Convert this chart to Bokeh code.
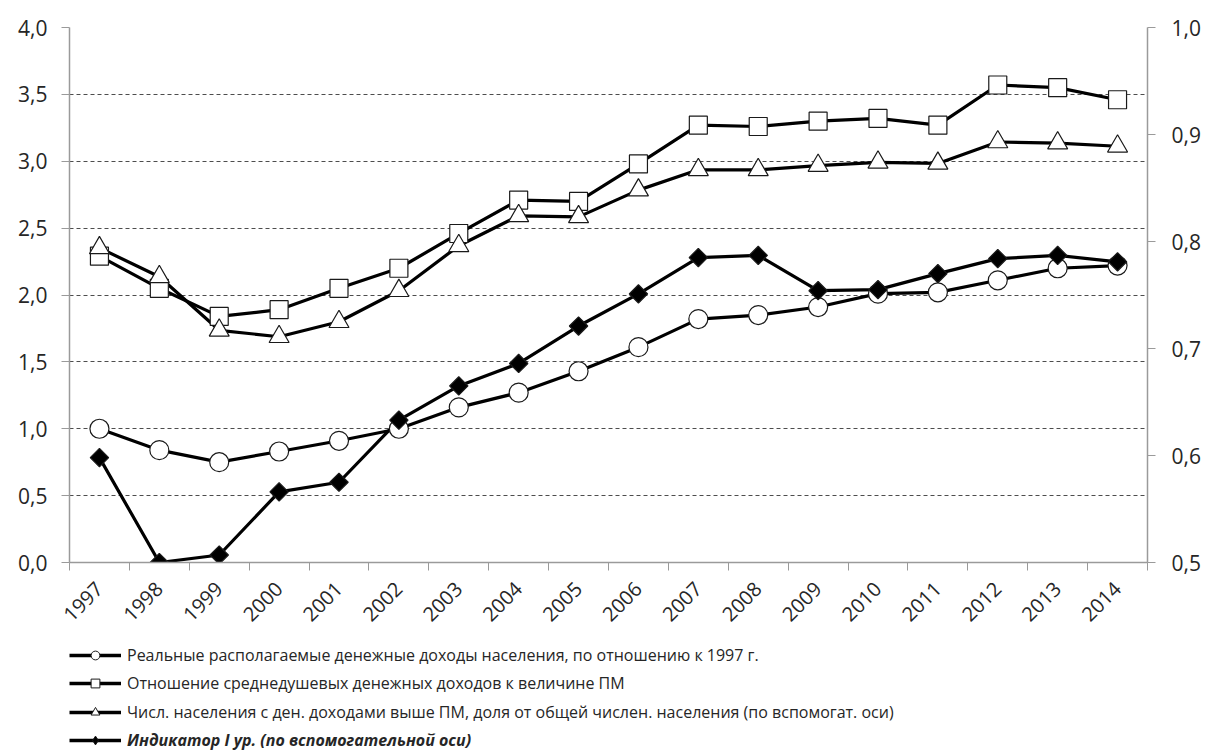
import numpy as np
from bokeh.plotting import figure
from bokeh.layouts import column
from bokeh.models import (Range1d, LinearAxis, FixedTicker, CustomJSTickFormatter,
                          ColumnDataSource, Legend, LegendItem)
from bokeh.embed import file_html
from bokeh.resources import INLINE

# ---------------- data ----------------
years = ["1997", "1998", "1999", "2000", "2001", "2002", "2003", "2004", "2005",
         "2006", "2007", "2008", "2009", "2010", "2011", "2012", "2013", "2014"]
real_income = [1.00, 0.84, 0.75, 0.83, 0.91, 1.00, 1.16, 1.27, 1.43,
               1.61, 1.82, 1.85, 1.91, 2.01, 2.02, 2.11, 2.20, 2.22]
income_to_pm = [2.29, 2.05, 1.84, 1.89, 2.05, 2.20, 2.46, 2.71, 2.70,
                2.98, 3.27, 3.26, 3.30, 3.32, 3.27, 3.57, 3.55, 3.46]
share_above_pm = [0.794, 0.767, 0.717, 0.711, 0.725, 0.754, 0.796, 0.824, 0.823,
                  0.848, 0.867, 0.867, 0.871, 0.874, 0.873, 0.893, 0.892, 0.889]
indicator = [0.598, 0.500, 0.507, 0.566, 0.575, 0.633, 0.665, 0.686, 0.721,
             0.751, 0.785, 0.787, 0.754, 0.755, 0.770, 0.784, 0.787, 0.781]
labels = [
    "Реальные располагаемые денежные доходы населения, по отношению к 1997 г.",
    "Отношение среднедушевых денежных доходов к величине ПМ",
    "Числ. населения с ден. доходами выше ПМ, доля от общей числен. населения (по вспомогат. оси)",
    "Индикатор I ур. (по вспомогательной оси)",
]
left_ticks = [0.0, 0.5, 1.0, 1.5, 2.0, 2.5, 3.0, 3.5, 4.0]
right_ticks = [0.5, 0.6, 0.7, 0.8, 0.9, 1.0]

# ---------------- styling ----------------
FONT = "Open Sans"
TXT = "#262626"
AXC = "#9a9a9a"
W = 1209
H_MAIN = 640
H_LEG = 115
FRAME_L, FRAME_T, FRAME_R, FRAME_B = 69, 27, 1147, 562

xpos = [i + 0.5 for i in range(len(years))]

p = figure(width=W, height=H_MAIN, output_backend="svg", toolbar_location=None,
           x_range=Range1d(0, len(years)), y_range=Range1d(0, 4.0),
           min_border_left=FRAME_L, min_border_right=W - FRAME_R,
           min_border_top=FRAME_T, min_border_bottom=H_MAIN - FRAME_B)
p.outline_line_color = None
p.background_fill_color = "white"
p.border_fill_color = "white"

p.extra_y_ranges = {"sec": Range1d(0.5, 1.0)}

fmt = CustomJSTickFormatter(code="return tick.toFixed(1).replace('.', ',');")

# x axis
xa = p.xaxis[0]
xa.ticker = FixedTicker(ticks=xpos, minor_ticks=list(range(len(years) + 1)))
xa.formatter = CustomJSTickFormatter(args=dict(years=years),
                                     code="return years[Math.round(tick - 0.5)];")
xa.major_tick_out = 0
xa.major_tick_in = 0
xa.minor_tick_out = 8
xa.minor_tick_in = 0
xa.minor_tick_line_color = AXC
xa.axis_line_color = AXC
xa.axis_line_width = 1.5
xa.major_label_orientation = np.pi / 4
xa.major_label_standoff = 15
xa.major_label_text_font = FONT
xa.major_label_text_font_size = "20px"
xa.major_label_text_color = TXT

# left axis
ya = p.yaxis[0]
ya.ticker = FixedTicker(ticks=left_ticks)
ya.formatter = fmt
ya.major_tick_out = 8
ya.major_tick_in = 0
ya.minor_tick_out = 0
ya.minor_tick_in = 0
ya.major_tick_line_color = AXC
ya.axis_line_color = AXC
ya.axis_line_width = 1.5
ya.major_label_standoff = 14
ya.major_label_text_font = FONT
ya.major_label_text_font_size = "21px"
ya.major_label_text_color = TXT

# right axis
ra = LinearAxis(y_range_name="sec", ticker=FixedTicker(ticks=right_ticks), formatter=fmt)
ra.major_tick_out = 8
ra.major_tick_in = 0
ra.minor_tick_out = 0
ra.minor_tick_in = 0
ra.major_tick_line_color = AXC
ra.axis_line_color = AXC
ra.axis_line_width = 1.5
ra.major_label_standoff = 16
ra.major_label_text_font = FONT
ra.major_label_text_font_size = "21px"
ra.major_label_text_color = TXT
p.add_layout(ra, "right")

# grid
p.xgrid.visible = False
p.ygrid[0].ticker = FixedTicker(ticks=left_ticks[1:])
p.ygrid[0].grid_line_color = "#4d4d4d"
p.ygrid[0].grid_line_dash = "4 3"
p.ygrid[0].grid_line_width = 1

src = ColumnDataSource(dict(x=xpos, real=real_income, pm=income_to_pm,
                            share=share_above_pm, ind=indicator))

series = [
    dict(y="real", rng="default", marker="circle", size=19, fill="white", angle=0.0,
         leg_marker="circle", leg_size=10),
    dict(y="pm", rng="default", marker="square", size=18, fill="white", angle=0.0,
         leg_marker="square", leg_size=10),
    dict(y="share", rng="sec", marker="triangle", size=20, fill="white", angle=0.0,
         leg_marker="triangle", leg_size=12),
    dict(y="ind", rng="sec", marker="square", size=13, fill="black", angle=np.pi / 4,
         leg_marker="diamond", leg_size=13),
]

for s in series:
    p.line("x", s["y"], source=src, y_range_name=s["rng"],
           line_color="black", line_width=3.2)
for s in series:
    p.scatter("x", s["y"], source=src, y_range_name=s["rng"],
              marker=s["marker"], size=s["size"], fill_color=s["fill"],
              line_color="#1a1a1a", line_width=1.2, angle=s["angle"])

# ---------------- legend figure (frames are aligned with the chart) ----------------
lf = figure(width=W, height=H_LEG, output_backend="svg", toolbar_location=None,
            x_range=Range1d(0, 1), y_range=Range1d(0, 1),
            x_axis_type=None, y_axis_type=None,
            min_border_left=FRAME_L, min_border_right=W - FRAME_R,
            min_border_top=0, min_border_bottom=0)
lf.outline_line_color = None
lf.xgrid.visible = False
lf.ygrid.visible = False
lf.background_fill_color = "white"
lf.border_fill_color = "white"

# off-screen sample data so the legend can draw each series' glyph
dummy = ColumnDataSource(dict(x=[-5.0, -4.0], y=[-5.0, -5.0]))
row_centers = [15, 43, 72, 100]   # y of each legend row inside this strip
item_h = 22
for i, s in enumerate(series):
    lr = lf.line("x", "y", source=dummy, line_color="black", line_width=3.4)
    sr = lf.scatter("x", "y", source=dummy, marker=s["leg_marker"], size=s["leg_size"],
                    fill_color=s["fill"], line_color="#1a1a1a", line_width=1)
    leg = Legend(items=[LegendItem(label=labels[i], renderers=[lr, sr], index=0)],
                 location=(0, H_LEG - row_centers[i] - item_h // 2),
                 orientation="vertical", padding=0, margin=0, spacing=0,
                 glyph_width=52, glyph_height=item_h, label_height=item_h,
                 label_standoff=6, border_line_color=None,
                 background_fill_alpha=0, label_text_font=FONT,
                 label_text_font_size="16px", label_text_color=TXT,
                 label_text_font_style="bold italic" if i == 3 else "normal")
    lf.add_layout(leg, "center")

layout = column(p, lf, spacing=0)
open("out.html", "w").write(file_html(layout, INLINE))
